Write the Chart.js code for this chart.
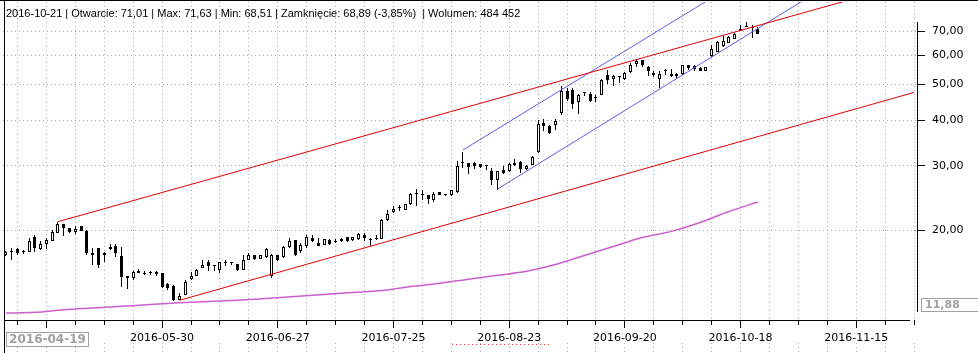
<!DOCTYPE html>
<html>
<head>
<meta charset="utf-8">
<script src="https://cdn.jsdelivr.net/npm/chart.js@4.4.0/dist/chart.umd.min.js"></script>
<style>
html,body{margin:0;padding:0;background:#fff;overflow:hidden}
#wrap{width:978px;height:353px;position:relative}
canvas{display:block}
</style>
</head>
<body>
<div id="wrap"><canvas id="c" width="978" height="353"></canvas></div>
<script>
// ---------- categories ----------
const firstDate = '2016-04-19';
const holidays = ['2016-05-03', '2016-05-26', '2016-08-15'];
const slotCount = 158;           // trading days shown on the axis (incl. future)
const tickLabels = ['2016-05-30', '2016-06-27', '2016-07-25', '2016-08-23', '2016-09-20', '2016-10-18', '2016-11-15'];
const firstDateBoxLabel = '2016-04-19';
const valueBoxLabel = '11,88';
const yTicks = [20, 30, 40, 50, 60, 70];
const headerText = '2016-10-21 | Otwarcie: 71,01 | Max: 71,63 | Min: 68,51 | Zamknięcie: 68,89 (-3,85%)  | Wolumen: 484 452';

// ---------- OHLC ----------
const opens = [17.10,17.55,17.80,17.52,17.51,19.24,17.76,18.34,18.76,19.73,
20.79,20.28,19.85,20.57,19.98,17.12,17.87,17.12,18.06,18.14,
17.04,15.02,14.81,15.33,15.27,15.33,15.22,15.27,14.29,14.14,
12.92,13.34,14.75,15.06,15.80,16.36,16.04,15.57,16.30,16.29,
16.19,15.57,16.59,17.12,16.77,16.90,15.00,17.12,16.90,18.03,
18.80,17.55,18.16,19.07,18.52,18.30,18.88,18.70,18.96,19.17,
18.80,19.00,19.40,18.90,18.98,19.00,21.30,22.42,23.00,22.80,
23.67,25.25,25.05,24.95,24.27,25.45,25.15,24.95,25.47,30.55,
30.56,30.50,30.35,29.95,29.01,27.52,29.19,29.01,30.56,30.70,
29.40,30.24,32.69,39.29,38.48,38.80,41.84,48.04,48.34,44.83,
47.30,47.23,46.00,46.93,53.02,51.90,52.40,51.90,54.13,57.02,
58.26,55.85,53.90,51.90,54.30,53.60,52.70,53.35,56.45,55.05,
55.61,54.37,59.74,61.37,63.73,65.06,66.72,70.02,71.90,71.50,
71.01];
const highs = [17.58,17.88,17.95,17.69,19.04,19.44,18.72,19.04,20.06,21.14,
20.80,20.30,20.61,20.61,20.06,17.87,17.93,17.51,18.34,18.34,
18.06,15.04,15.52,15.66,15.52,15.52,15.52,15.33,14.35,14.20,
13.48,14.66,15.43,15.70,16.65,16.65,16.05,16.46,16.59,16.40,
16.20,17.12,17.33,17.18,17.15,17.91,17.26,17.18,18.10,19.07,
18.88,18.50,19.41,19.41,19.07,19.00,18.96,18.96,19.07,19.20,
19.25,19.70,19.69,19.07,19.41,21.50,22.80,23.28,23.52,23.60,
25.30,26.00,25.75,25.05,25.45,25.50,25.20,25.80,30.89,32.75,
30.60,30.70,30.40,30.25,29.62,29.10,29.93,30.50,31.30,30.89,
30.20,32.00,40.11,40.37,38.80,40.37,49.48,49.10,48.95,47.23,
47.80,47.60,46.80,51.90,54.90,53.00,52.70,54.20,57.40,58.70,
58.35,56.20,54.40,54.40,55.20,55.00,53.80,56.67,56.70,56.45,
55.80,55.90,64.00,65.70,67.86,67.70,69.30,72.58,74.20,72.86,
71.63];
const lows = [17.05,16.62,17.15,17.29,17.48,17.51,17.69,17.76,18.72,19.72,
19.36,19.65,19.53,19.94,17.15,16.10,15.83,16.45,17.69,16.90,
14.05,13.85,14.66,15.30,15.17,15.17,15.06,13.98,13.76,12.87,
12.90,13.34,14.66,15.00,15.80,15.47,15.52,15.30,15.96,16.15,
15.52,15.57,16.59,16.65,16.75,16.83,14.84,16.55,16.83,17.91,
17.08,17.37,17.91,18.60,18.16,18.28,18.30,18.52,18.60,18.65,
18.78,18.90,18.68,18.16,18.88,18.95,21.24,22.30,22.65,22.70,
23.50,23.37,24.27,23.67,23.90,24.95,24.90,24.90,25.35,29.62,
28.57,29.45,29.60,29.20,26.67,25.84,28.52,28.90,29.93,28.70,
29.30,30.15,32.60,37.43,36.70,37.70,41.30,45.10,43.00,41.65,
46.60,44.70,44.90,46.80,50.30,49.50,50.60,51.40,53.80,55.90,
55.90,52.69,52.40,48.95,53.00,52.40,52.20,53.20,54.90,54.37,
54.30,54.30,59.50,61.20,63.30,64.90,66.40,69.90,71.70,67.20,
68.51];
const closes = [17.51,17.50,17.33,17.50,18.72,17.95,18.38,18.84,19.85,20.83,
20.28,19.85,20.19,19.98,17.33,17.33,16.10,17.33,17.80,17.33,
14.96,14.81,15.43,15.52,15.25,15.31,15.43,14.05,13.91,12.90,
13.28,14.45,15.02,15.65,16.13,15.96,16.00,16.36,16.28,16.27,
15.63,16.65,17.18,16.74,17.12,17.80,17.12,16.65,18.03,18.76,
17.18,18.30,19.20,18.68,18.20,18.96,18.41,18.66,18.76,18.70,
19.20,19.57,19.07,18.88,18.96,21.40,22.25,22.89,23.05,23.55,
25.15,25.20,25.00,24.42,25.15,25.05,24.95,25.75,30.05,30.50,
29.80,30.00,29.75,29.90,27.52,29.01,28.70,30.37,30.10,29.50,
30.05,31.74,39.04,38.48,36.90,39.86,47.95,45.60,44.41,46.76,
47.50,45.03,45.97,51.38,51.38,52.69,52.30,53.89,56.67,58.00,
56.45,54.37,53.00,53.50,54.40,52.70,53.55,56.45,55.61,56.10,
54.37,55.85,62.66,65.35,65.76,67.43,68.85,71.04,72.00,71.65,
68.89];

// ---------- long moving average (magenta), read every 5 sessions ----------
const maIndex  = [0,5,10,15,20,25,30,35,40,45,50,55,60,65,70,75,80,85,90,95,100,105,110,115,120,125,130];
const maValues = [11.91,11.96,12.16,12.29,12.42,12.57,12.70,12.80,12.91,13.05,13.21,13.39,13.55,13.72,14.07,14.36,14.73,15.09,15.48,16.15,17.09,18.09,19.14,19.89,21.03,22.54,23.92];

// ---------- trend lines (start / end session index and value) ----------
const redUpperIndex = [9, 157];   const redUpperValues = [21.14, 95.4];
const redLowerIndex = [30, 157];  const redLowerValues = [12.90, 47.62];
const blueUpperIndex = [79, 157]; const blueUpperValues = [33.16, 187.4];
const blueLowerIndex = [85, 157]; const blueLowerValues = [25.96, 130.3];

// ---------- build category list (trading days) ----------
function buildDates() {
  const out = [];
  const d = new Date(firstDate + 'T00:00:00Z');
  while (out.length < slotCount) {
    const dow = d.getUTCDay();
    const s = d.toISOString().slice(0, 10);
    if (dow !== 0 && dow !== 6 && holidays.indexOf(s) === -1) out.push(s);
    d.setUTCDate(d.getUTCDate() + 1);
  }
  return out;
}
const dates = buildDates();

const bodyData = opens.map((o, i) => [o, closes[i]]);
const wickData = lows.map((l, i) => [l, highs[i]]);
const bodyColors = opens.map((o, i) => closes[i] >= o ? '#ffffff' : '#000000');
const pts = (idx, vals) => idx.map((k, j) => ({ x: dates[k], y: vals[j] }));

const FONT = '"DejaVu Sans", Verdana, sans-serif';

const extras = {
  id: 'extras',
  beforeDatasetsDraw(chart) {
    const b = chart.getDatasetMeta(4).data;
    const w = chart.getDatasetMeta(5).data;
    b.forEach(el => {
      const left = Math.round(el.x - 1.5);
      el.x = left + 1.5;
      el.y = Math.round(el.y); el.base = Math.round(el.base);
      if (Math.abs(el.y - el.base) < 1) el.base = el.y + 1;
    });
    w.forEach(el => {
      const left = Math.round(el.x - 1.5) + 1;
      el.x = left + 0.5;
      el.y = Math.round(el.y); el.base = Math.round(el.base);
    });
  },
  afterDraw(chart) {
    const ctx = chart.ctx;
    const xs = chart.scales.x, ys = chart.scales.y;
    const ca = chart.chartArea;
    ctx.save();
    ctx.strokeStyle = '#000'; ctx.lineWidth = 1;
    // frame lines
    ctx.beginPath();
    ctx.moveTo(0, 0.5); ctx.lineTo(978, 0.5);
    ctx.moveTo(4.5, 0); ctx.lineTo(4.5, 353);
    ctx.moveTo(4, ca.bottom + 0.5); ctx.lineTo(910, ca.bottom + 0.5);
    ctx.moveTo(ca.right + 0.5, 22); ctx.lineTo(ca.right + 0.5, 312);
    ctx.stroke();
    // y tick marks
    ctx.beginPath();
    yTicks.forEach(v => {
      const y = Math.round(ys.getPixelForValue(v) - 0.5) + 0.5;
      ctx.moveTo(ca.right, y); ctx.lineTo(ca.right + 8, y);
    });
    ctx.stroke();
    // x tick marks (weekly minor, 4-weekly major)
    ctx.beginPath();
    for (let i = 2; i < slotCount; i += 5) {
      const x = Math.round(xs.getPixelForValue(i) - 0.5) + 0.5;
      const len = (i % 20 === 7) ? 8 : 5;
      ctx.moveTo(x, ca.bottom); ctx.lineTo(x, ca.bottom + len);
    }
    ctx.stroke();
    // lower pane gridline stubs
    ctx.strokeStyle = '#aaaaaa'; ctx.setLineDash([1, 3]);
    ctx.beginPath();
    for (let i = 2; i < slotCount; i += 5) {
      const x = Math.round(xs.getPixelForValue(i) - 0.5) + 0.5;
      ctx.moveTo(x, 343); ctx.lineTo(x, 353);
    }
    ctx.stroke();
    // red dotted underline
    ctx.strokeStyle = '#ff4040';
    ctx.beginPath(); ctx.moveTo(452, 344.5); ctx.lineTo(552, 344.5); ctx.stroke();
    ctx.setLineDash([]);
    // header
    ctx.fillStyle = '#000';
    ctx.font = '11px "Liberation Sans", Arial, sans-serif';
    ctx.textBaseline = 'alphabetic'; ctx.textAlign = 'left';
    ctx.fillText(headerText, 6, 17);
    // first-date box
    ctx.fillStyle = '#fff'; ctx.fillRect(6, 332, 82, 14);
    ctx.strokeStyle = '#a0a0a0';
    ctx.strokeRect(6.5, 332.5, 82, 14);
    ctx.fillStyle = '#a0a0a0';
    ctx.font = 'bold 12px ' + FONT;
    ctx.textAlign = 'center'; ctx.textBaseline = 'middle';
    ctx.fillText(firstDateBoxLabel, 47.5, 339.5);
    // value box
    ctx.fillStyle = '#fff'; ctx.fillRect(921, 298, 57, 14);
    ctx.strokeRect(921.5, 298.5, 60, 13);
    ctx.fillStyle = '#a0a0a0';
    ctx.font = 'bold 11px ' + FONT;
    ctx.textAlign = 'left';
    ctx.fillText(valueBoxLabel, 925, 305.5);
    ctx.restore();
  }
};

new Chart(document.getElementById('c'), {
  type: 'bar',
  data: {
    labels: dates,
    datasets: [
      { type: 'line', data: pts(redUpperIndex, redUpperValues), borderColor: '#e00000', borderWidth: 1, pointRadius: 0, order: 0 },
      { type: 'line', data: pts(redLowerIndex, redLowerValues), borderColor: '#e00000', borderWidth: 1, pointRadius: 0, order: 0 },
      { type: 'line', data: pts(blueUpperIndex, blueUpperValues), borderColor: '#5c5ce6', borderWidth: 1, pointRadius: 0, order: 0 },
      { type: 'line', data: pts(blueLowerIndex, blueLowerValues), borderColor: '#5c5ce6', borderWidth: 1, pointRadius: 0, order: 0 },
      { type: 'bar', data: bodyData, backgroundColor: bodyColors, borderColor: '#000', borderWidth: 1, borderSkipped: false,
        barThickness: 3, grouped: false, minBarLength: 1, inflateAmount: 0, order: 1 },
      { type: 'bar', data: wickData, backgroundColor: '#000', borderWidth: 0, barThickness: 1, grouped: false, inflateAmount: 0, order: 2 },
      { type: 'line', data: pts(maIndex, maValues), borderColor: '#cc5fcc', borderWidth: 1.5, pointRadius: 0,
        cubicInterpolationMode: 'monotone', order: 0 }
    ]
  },
  options: {
    responsive: false,
    animation: false,
    devicePixelRatio: 1,
    layout: { padding: { left: 3, top: 2, right: 0, bottom: 0 } },
    plugins: { legend: { display: false }, tooltip: { enabled: false } },
    scales: {
      x: {
        type: 'category',
        offset: true,
        grid: { offset: false, color: '#aaaaaa', lineWidth: 1, drawTicks: false },
        border: { display: false, dash: [1, 3] },
        ticks: {
          autoSkip: false, maxRotation: 0, minRotation: 0, padding: 12,
          color: '#000', font: { family: FONT, size: 11 },
          callback: function (v) { const l = this.getLabelForValue(v); return tickLabels.indexOf(l) >= 0 ? l : ''; }
        },
        afterBuildTicks(s) { s.ticks = s.ticks.filter(t => t.value % 5 === 2); },
        afterFit(s) { s.height = 33; s.paddingLeft = 0; s.paddingRight = 0; }
      },
      y: {
        type: 'logarithmic',
        position: 'right',
        min: 11.40, max: 84.02,
        bounds: 'data',
        grid: { color: '#aaaaaa', lineWidth: 1, drawTicks: false },
        border: { display: false, dash: [1, 3] },
        ticks: {
          padding: 15, color: '#000', font: { family: FONT, size: 11 },
          callback: v => Number(v).toFixed(2).replace('.', ',')
        },
        afterBuildTicks(s) { s.ticks = yTicks.map(v => ({ value: v })); },
        afterFit(s) { s.width = 61; s.paddingTop = 0; s.paddingBottom = 0; }
      }
    }
  },
  plugins: [extras]
});
</script>
</body>
</html>
